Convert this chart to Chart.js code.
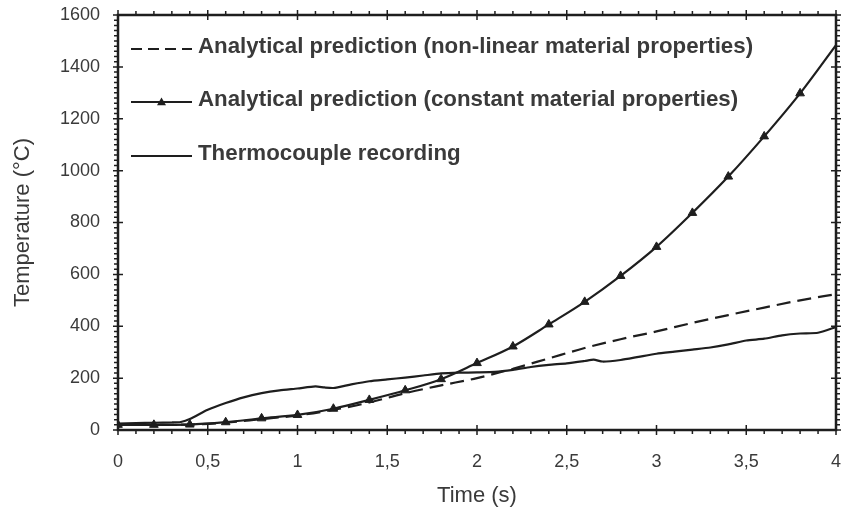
<!DOCTYPE html>
<html>
<head>
<meta charset="utf-8">
<script src="https://cdn.jsdelivr.net/npm/chart.js@4.4.1/dist/chart.umd.min.js"></script>
<style>
  html, body { margin: 0; padding: 0; background: #fff; }
  #wrap { width: 842px; height: 515px; position: relative; }
</style>
</head>
<body>
<div id="wrap"><canvas id="c" width="842" height="515"></canvas></div>
<script>
// Time axis (s) and temperature series (°C)
const constTime = [0, 0.2, 0.4, 0.6, 0.8, 1.0, 1.2, 1.4, 1.6, 1.8, 2.0, 2.2, 2.4, 2.6, 2.8, 3.0, 3.2, 3.4, 3.6, 3.8, 4.0];
const constTemp = [20, 20, 21, 30, 45, 58, 82, 116, 153, 196, 258, 322, 407, 494, 594, 706, 837, 977, 1132, 1298, 1484];

const nonlinTime = [0, 0.2, 0.4, 0.6, 0.8, 1.0, 1.2, 1.4, 1.6, 1.8, 2.0, 2.2, 2.4, 2.6, 2.8, 3.0, 3.2, 3.4, 3.6, 3.8, 4.0];
const nonlinTemp = [20, 20, 21, 28, 42, 56, 78, 106, 142, 172, 200, 236, 276, 316, 350, 380, 413, 443, 472, 500, 524];

const tcTime = [0, 0.1, 0.2, 0.3, 0.35, 0.4, 0.5, 0.6, 0.7, 0.8, 0.9, 1.0, 1.1, 1.15, 1.2, 1.3, 1.4, 1.5, 1.6, 1.7, 1.8, 1.9, 2.0, 2.1, 2.2, 2.3, 2.4, 2.5, 2.6, 2.65, 2.7, 2.8, 2.9, 3.0, 3.1, 3.2, 3.3, 3.4, 3.5, 3.6, 3.7, 3.8, 3.9, 4.0];
const tcTemp = [25, 27, 28, 29, 31, 42, 78, 104, 126, 142, 153, 160, 168, 164, 162, 176, 188, 195, 202, 210, 218, 221, 222, 224, 232, 243, 251, 257, 266, 271, 264, 270, 282, 294, 302, 310, 318, 330, 345, 352, 365, 372, 375, 397];

const seriesLabels = [
  'Analytical prediction (non-linear material properties)',
  'Analytical prediction (constant material properties)',
  'Thermocouple recording'
];

const xTitle = 'Time (s)';
const yTitle = 'Temperature (°C)';

const xMax = 4, xMajor = 0.5, xMinor = 0.1;
const yMax = 1600, yMajor = 200, yMinor = 20;

const INK = '#1e1e1e';
const TEXT = '#3a3a3a';
const FONT = '"Liberation Sans", Arial, sans-serif';

function toPoints(xs, ys) { return xs.map((x, i) => ({ x: x, y: ys[i] })); }

// Box frame, major ticks crossing the frame and small outward minor ticks on all four sides
const framePlugin = {
  id: 'frame',
  afterDatasetsDraw(chart) {
    const { ctx, chartArea: a, scales } = chart;
    const xs = scales.x, ys = scales.y;
    ctx.save();
    ctx.strokeStyle = INK;
    ctx.lineWidth = 1.5;
    ctx.beginPath();
    const nx = Math.round(xMax / xMinor);
    for (let i = 0; i <= nx; i++) {
      const v = i * xMinor;
      const px = xs.getPixelForValue(v);
      const major = Math.abs(v / xMajor - Math.round(v / xMajor)) < 1e-6;
      const inLen = major ? 5 : 0, outLen = major ? 5 : 4;
      ctx.moveTo(px, a.bottom - inLen); ctx.lineTo(px, a.bottom + outLen);
      ctx.moveTo(px, a.top + inLen); ctx.lineTo(px, a.top - outLen);
    }
    const ny = Math.round(yMax / yMinor);
    for (let i = 0; i <= ny; i++) {
      const v = i * yMinor;
      const py = ys.getPixelForValue(v);
      const major = v % yMajor === 0;
      const inLen = major ? 5 : 0, outLen = major ? 5 : 4;
      ctx.moveTo(a.left + inLen, py); ctx.lineTo(a.left - outLen, py);
      ctx.moveTo(a.right - inLen, py); ctx.lineTo(a.right + outLen, py);
    }
    ctx.stroke();
    ctx.lineWidth = 2.5;
    ctx.strokeRect(a.left, a.top, a.right - a.left, a.bottom - a.top);
    ctx.restore();
  }
};

// Legend drawn inside the plot box, top-left, using each dataset's own style
const insideLegend = {
  id: 'insideLegend',
  afterDraw(chart) {
    const { ctx } = chart;
    const rows = [47, 100, 154];
    const x0 = 131, x1 = 192, tx = 198;
    ctx.save();
    chart.data.datasets.forEach((ds, i) => {
      const y = rows[i];
      ctx.strokeStyle = ds.borderColor;
      ctx.lineWidth = ds.borderWidth;
      ctx.setLineDash(ds.legendDash || []);
      ctx.beginPath();
      ctx.moveTo(x0, y + 2); ctx.lineTo(x1, y + 2);
      ctx.stroke();
      ctx.setLineDash([]);
      if (ds.pointStyle === 'triangle') {
        const cx = (x0 + x1) / 2, r = 4.5;
        ctx.fillStyle = ds.pointBackgroundColor;
        ctx.beginPath();
        ctx.moveTo(cx, y + 2 - r);
        ctx.lineTo(cx + r, y + 2 + r * 0.7);
        ctx.lineTo(cx - r, y + 2 + r * 0.7);
        ctx.closePath();
        ctx.fill();
      }
      ctx.fillStyle = TEXT;
      ctx.font = 'bold 22.3px ' + FONT;
      ctx.textBaseline = 'middle';
      ctx.textAlign = 'left';
      ctx.fillText(ds.label, tx, y);
    });
    ctx.restore();
  }
};

const commaFmt = v => String(Math.round(v * 10) / 10).replace('.', ',');

function noEdgePadding(scale) {
  scale.paddingLeft = 0; scale.paddingRight = 0;
  scale.paddingTop = 0; scale.paddingBottom = 0;
}

new Chart(document.getElementById('c'), {
  type: 'line',
  data: {
    datasets: [
      {
        label: seriesLabels[0],
        data: toPoints(nonlinTime, nonlinTemp),
        borderColor: INK, borderWidth: 2.2,
        borderDash: [14, 7], legendDash: [11, 6],
        pointRadius: 0, cubicInterpolationMode: 'monotone'
      },
      {
        label: seriesLabels[1],
        data: toPoints(constTime, constTemp),
        borderColor: INK, borderWidth: 2.2,
        pointStyle: 'triangle',
        pointRadius: constTime.map(t => t < xMax ? 5 : 0),
        pointBackgroundColor: INK, pointBorderColor: INK, pointBorderWidth: 1,
        cubicInterpolationMode: 'monotone'
      },
      {
        label: seriesLabels[2],
        data: toPoints(tcTime, tcTemp),
        borderColor: INK, borderWidth: 2.2,
        pointRadius: 0, tension: 0.2
      }
    ]
  },
  options: {
    responsive: false,
    animation: false,
    devicePixelRatio: 1,
    layout: { padding: { top: 15, right: 2, left: 0, bottom: 0 } },
    plugins: { legend: { display: false }, tooltip: { enabled: false } },
    scales: {
      x: {
        type: 'linear', min: 0, max: xMax,
        grid: { display: false, drawTicks: false },
        border: { display: false },
        ticks: {
          stepSize: xMajor, padding: 21, color: TEXT,
          font: { family: FONT, size: 18 },
          callback: v => commaFmt(v), maxRotation: 0
        },
        title: {
          display: true, text: xTitle, color: TEXT,
          font: { family: FONT, size: 22 },
          padding: { top: 0, bottom: 6 }
        },
        afterFit(scale) { scale.height = 85; noEdgePadding(scale); }
      },
      y: {
        type: 'linear', min: 0, max: yMax,
        grid: { display: false, drawTicks: false },
        border: { display: false },
        ticks: {
          stepSize: yMajor, padding: 18, color: TEXT,
          font: { family: FONT, size: 18 },
          callback: v => String(v)
        },
        title: {
          display: true, text: yTitle, color: TEXT,
          font: { family: FONT, size: 22 },
          padding: { top: 10, bottom: 0 }
        },
        afterFit(scale) { scale.width = 118; noEdgePadding(scale); }
      }
    }
  },
  plugins: [framePlugin, insideLegend]
});
</script>
</body>
</html>
